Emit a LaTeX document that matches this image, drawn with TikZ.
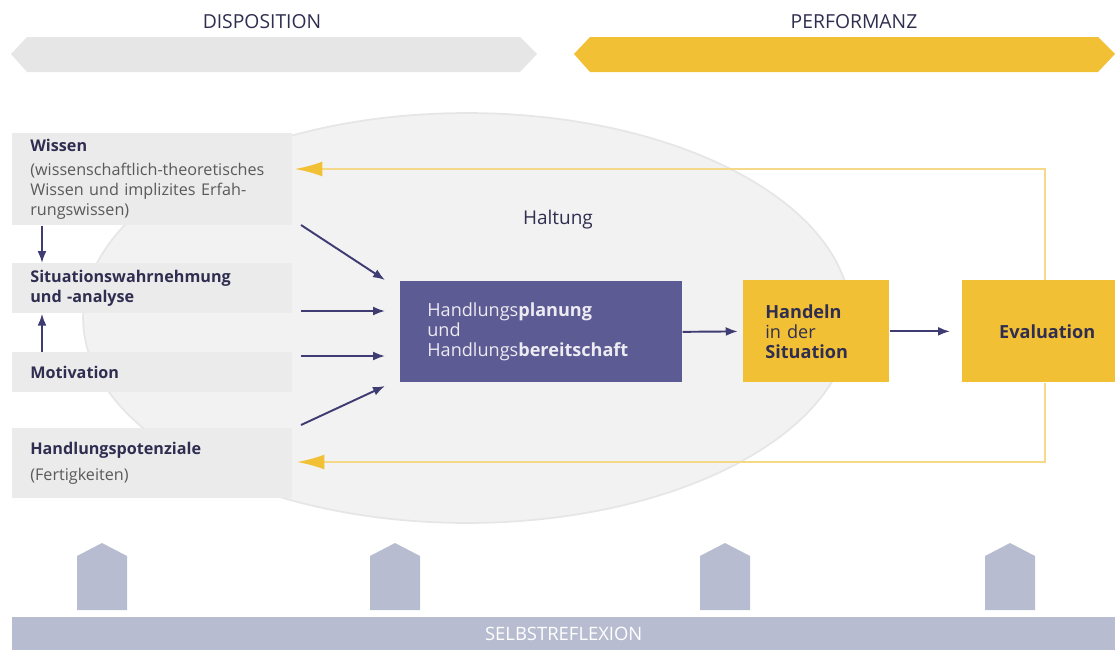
\documentclass[tikz,border=0pt]{standalone}
\usepackage{fontspec}
\setmainfont{Open Sans}
\usetikzlibrary{arrows.meta,positioning}
\definecolor{navyarrow}{HTML}{3E3C72}
\definecolor{navytext}{HTML}{302E50}
\definecolor{plancol}{HTML}{5D5B93}
\definecolor{yellowcol}{HTML}{F2C035}
\definecolor{fbcol}{HTML}{F5D888}
\definecolor{bandgray}{HTML}{E6E6E6}
\definecolor{boxgray}{HTML}{EBEBEB}
\definecolor{ellgray}{HTML}{F2F2F2}
\definecolor{ellborder}{HTML}{E6E6E6}
\definecolor{reflcol}{HTML}{B8BCD0}
\definecolor{subtext}{HTML}{5A5A5A}

\begin{document}
\begin{tikzpicture}
        [x=0.02cm, y=-0.02cm, font=\fontsize{9.2}{11.4}\selectfont,
        lbox/.style={fill=boxgray, anchor=north west, text width=4.88cm, align=left,
          inner xsep=0.36cm, inner ysep=0.08cm, text=navytext},
        planbox/.style={fill=plancol, anchor=north west, minimum height=2.02cm, text width=4.56cm,
          align=left, inner xsep=0.54cm, text=white!88!plancol, font=\fontsize{10.3}{11.4}\selectfont},
        ybox/.style={fill=yellowcol, anchor=north west, minimum height=2.04cm, text=navytext,
          font=\fontsize{10.3}{11.4}\selectfont},
        head/.style={text=navytext, font=\fontsize{11}{12}\selectfont},
        arr/.style={navyarrow, line width=1.1pt, -{Latex[length=2.4mm,width=1.8mm]}},
        feedback/.style={fbcol, line width=1pt, -{Latex[length=5.5mm,width=3mm,color=yellowcol]}},
        reflarrow/.style={fill=reflcol}]

        \useasboundingbox (0,0) rectangle (1115,650);

        % Disposition / Performanz bands
        \fill[bandgray] (11,54) -- (27,37) -- (520,37) -- (537,54) -- (520,72) -- (27,72) -- cycle;
        \fill[yellowcol] (574,54) -- (590,37) -- (1098,37) -- (1115,54) -- (1098,72) -- (590,72) -- cycle;
        \node[head] (disp) at (262,22) {DISPOSITION};
        \node[head] (perf) at (854,22) {PERFORMANZ};

        % Haltung
        \draw[ellborder, fill=ellgray, line width=1pt] (467,318) ellipse [x radius=7.68cm, y radius=4.1cm];
        \node[text=navytext, font=\fontsize{10.8}{12}\selectfont] (haltung) at (558,220) {Haltung};

        % left boxes
        \node[lbox, minimum height=1.84cm] (wissen) at (12,133)
          {\textbf{Wissen}\\[2pt]\color{subtext}(wissenschaftlich-theoretisches\\Wissen und implizites Erfah-\\rungswissen)};
        \node[lbox, minimum height=1cm] (situation) at (12,263)
          {\textbf{Situationswahrnehmung}\\\textbf{und -analyse}};
        \node[lbox, minimum height=0.8cm] (motivation) at (12,352) {\textbf{Motivation}};
        \node[lbox, minimum height=1.4cm] (potenzial) at (12,428)
          {\textbf{Handlungspotenziale}\\[3pt]\color{subtext}(Fertigkeiten)};

        % center and performance boxes
        \node[planbox] (plan) at (400,281)
          {Handlungs\textbf{planung}\\und\\Handlungs\textbf{bereitschaft}};
        \node[ybox, text width=2.04cm, align=left, inner xsep=0.44cm] (handeln) at (743,280)
          {\textbf{Handeln}\\in der\\\textbf{Situation}};
        \node[ybox, text width=2.26cm, align=right, inner xsep=0.4cm] (eval) at (962,280)
          {\textbf{Evaluation}};

        % arrows between left boxes
        \draw[arr] ([xshift=0.6cm]wissen.south west) -- ([xshift=0.6cm]situation.north west);
        \draw[arr] ([xshift=0.6cm]motivation.north west) -- ([xshift=0.6cm]situation.south west);

        % arrows into planning box
        \coordinate (a1) at (301,225);
        \coordinate (a2) at (301,311);
        \coordinate (a3) at (301,356);
        \coordinate (a4) at (301,425);
        \coordinate (b1) at (385,280);
        \coordinate (b2) at (385,311);
        \coordinate (b3) at (385,356);
        \coordinate (b4) at (385,386);
        \foreach \i in {1,...,4}
          \draw[arr] (a\i) -- (b\i);

        % main flow
        \draw[arr, shorten >=3pt] (plan.east) -- (handeln.west);
        \draw[arr, shorten >=0.24cm] (handeln) -- (eval);

        % feedback loop
        \coordinate (fbT) at (1045,169);
        \coordinate (fbB) at (1045,462);
        \coordinate (fbL) at (295,169);
        \coordinate (fbR) at (297,462);
        \draw[feedback] (eval.north -| fbT) -- (fbT) -- (fbL);
        \draw[feedback] (eval.south -| fbB) -- (fbB) -- (fbR);

        % Selbstreflexion
        \foreach \cx in {102,395,725,1010}
          \fill[reflarrow] (\cx-25,610) -- (\cx-25,556) -- (\cx,543) -- (\cx+25,556) -- (\cx+25,610) -- cycle;
        \node[fill=reflcol, anchor=north west, minimum width=22.06cm, minimum height=0.66cm,
          text=white, font=\fontsize{10.5}{12}\selectfont] (selbst) at (12,617) {SELBSTREFLEXION};

\end{tikzpicture}
\end{document}
